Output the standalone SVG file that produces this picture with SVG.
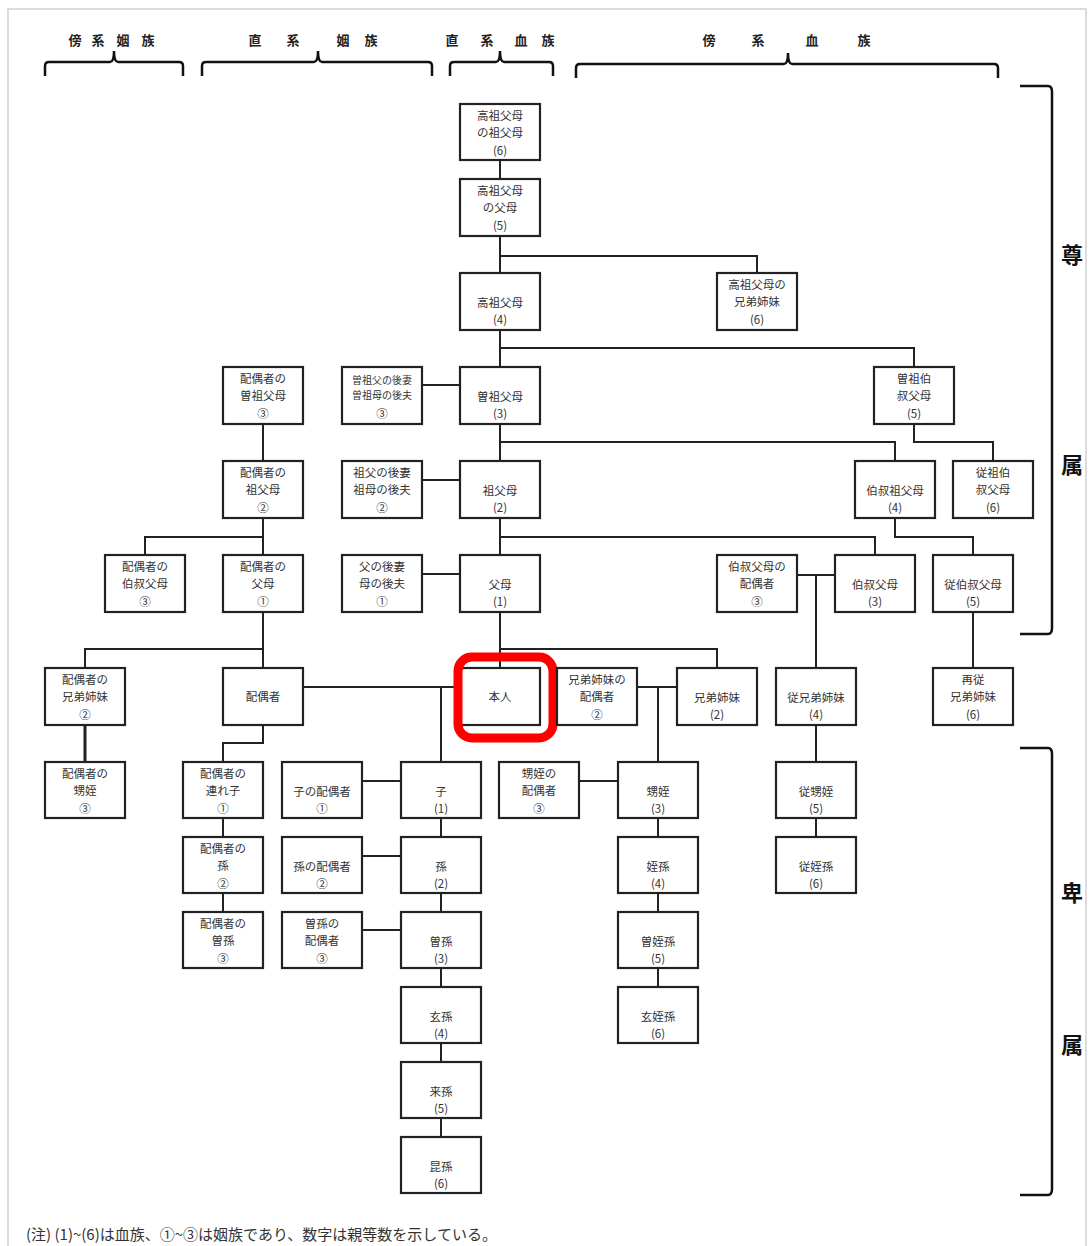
<svg xmlns="http://www.w3.org/2000/svg" width="1089" height="1246" viewBox="0 0 1089 1246">
<style>
.frame{fill:none;stroke:#d0d0d0;stroke-width:1.5}
.box{fill:#fff;stroke:#222;stroke-width:2.2}
.t{font-family:"Noto Sans CJK JP","Noto Sans",sans-serif;font-size:11.5px;fill:#333;text-anchor:middle}
.ts{font-size:10px}
.c{fill:none;stroke:#222;stroke-width:2}
.br{fill:none;stroke:#111;stroke-width:2.5}
.h{font-family:"Noto Sans CJK JP",sans-serif;font-size:13px;font-weight:bold;fill:#222;text-anchor:middle}
.hb{font-family:"Noto Sans CJK JP",sans-serif;font-size:22px;font-weight:bold;fill:#111;text-anchor:middle}
.note{font-family:"Noto Sans CJK JP",sans-serif;font-size:15px;fill:#333}
</style>
<rect width="1089" height="1246" fill="#fff"/>
<rect class="frame" x="8" y="9" width="1078" height="1260"/>

<g id="header">
<text class="h" x="75" y="45">傍</text><text class="h" x="98" y="45">系</text><text class="h" x="123" y="45">姻</text><text class="h" x="148" y="45">族</text>
<path class="br" d="M45 76 V66 Q45 62 49 62 H110 Q114 62 114 51 Q114 62 118 62 H179 Q183 62 183 66 V76"/>
<text class="h" x="255" y="45">直</text><text class="h" x="293" y="45">系</text><text class="h" x="343" y="45">姻</text><text class="h" x="371" y="45">族</text>
<path class="br" d="M202 76 V66 Q202 62 206 62 H314 Q318 62 318 51 Q318 62 322 62 H428 Q432 62 432 66 V76"/>
<text class="h" x="452" y="45">直</text><text class="h" x="487" y="45">系</text><text class="h" x="521" y="45">血</text><text class="h" x="548" y="45">族</text>
<path class="br" d="M450 76 V66 Q450 62 454 62 H496 Q500 62 500 51 Q500 62 504 62 H549 Q553 62 553 66 V76"/>
<text class="h" x="709" y="45">傍</text><text class="h" x="758" y="45">系</text><text class="h" x="812" y="45">血</text><text class="h" x="864" y="45">族</text>
<path class="br" d="M576 78 V68 Q576 64 580 64 H784 Q788 64 788 53 Q788 64 792 64 H994 Q998 64 998 68 V78"/>
</g>

<g id="side-brackets">
<path class="br" d="M1020 86 H1048 Q1052 86 1052 92 V628 Q1052 634 1048 634 H1020"/>
<text class="hb" x="1072" y="263">尊</text>
<text class="hb" x="1072" y="473">属</text>
<path class="br" d="M1020 748 H1048 Q1052 748 1052 754 V1189 Q1052 1195 1048 1195 H1020"/>
<text class="hb" x="1072" y="901">卑</text>
<text class="hb" x="1072" y="1053">属</text>
</g>

<g id="connectors">
<path class="c" d="M500 160 V179 M500 236 V273 M500 330 V367 M500 424 V461 M500 518 V555 M500 612 V668"/>
<path class="c" d="M500 256 H757 V273"/>
<path class="c" d="M500 348 H914 V367"/>
<path class="c" d="M500 442 H895 V461"/>
<path class="c" d="M914 424 V442 H993 V461"/>
<path class="c" d="M500 537 H875 V555"/>
<path class="c" d="M895 518 V537 H973 V555"/>
<path class="c" d="M422 385 H460 M422 480 H460 M422 574 H460"/>
<path class="c" d="M797 575 H835 M816 575 V668"/>
<path class="c" d="M973 612 V668"/>
<path class="c" d="M263 424 V461 M263 518 V555 M263 612 V668"/>
<path class="c" d="M263 537 H145 V555"/>
<path class="c" d="M263 649 H85 V668"/>
<path class="c" d="M85 725 V762" style="stroke-width:3"/>
<path class="c" d="M303 687 H460"/>
<path class="c" d="M441 687 V762 M441 818 V837 M441 893 V912 M441 968 V987 M441 1043 V1062 M441 1118 V1137"/>
<path class="c" d="M263 725 V743 H223 V762 M223 818 V837 M223 893 V912"/>
<path class="c" d="M362 781 H401 M362 856 H401 M362 930 H401"/>
<path class="c" d="M500 649 H717 V668"/>
<path class="c" d="M637 687 H677 M658 687 V762"/>
<path class="c" d="M579 781 H618"/>
<path class="c" d="M658 818 V837 M658 893 V912 M658 968 V987"/>
<path class="c" d="M816 725 V762 M816 818 V837"/>
</g>

<g id="n-kouso6"><rect class="box" x="460" y="104" width="80" height="56"/><text class="t" x="500" y="120">高祖父母</text><text class="t" x="500" y="137">の祖父母</text><text class="t" x="500" y="155">(6)</text></g>
<g id="n-kouso5"><rect class="box" x="460" y="179" width="80" height="57"/><text class="t" x="500" y="195">高祖父母</text><text class="t" x="500" y="212">の父母</text><text class="t" x="500" y="230">(5)</text></g>
<g id="n-kouso4"><rect class="box" x="460" y="273" width="80" height="57"/><text class="t" x="500" y="307">高祖父母</text><text class="t" x="500" y="324">(4)</text></g>
<g id="n-kouso-sib"><rect class="box" x="717" y="273" width="80" height="57"/><text class="t" x="757" y="289">高祖父母の</text><text class="t" x="757" y="306">兄弟姉妹</text><text class="t" x="757" y="324">(6)</text></g>

<g id="n-soso"><rect class="box" x="460" y="367" width="80" height="57"/><text class="t" x="500" y="401">曽祖父母</text><text class="t" x="500" y="418">(3)</text></g>
<g id="n-soso-step"><rect class="box" x="342" y="367" width="80" height="57"/><text class="t ts" x="382" y="384">曽祖父の後妻</text><text class="t ts" x="382" y="399">曽祖母の後夫</text><text class="t" x="382" y="418">③</text></g>
<g id="n-sp-soso"><rect class="box" x="223" y="367" width="80" height="57"/><text class="t" x="263" y="383">配偶者の</text><text class="t" x="263" y="400">曽祖父母</text><text class="t" x="263" y="418">③</text></g>
<g id="n-soso-uncle"><rect class="box" x="874" y="367" width="80" height="57"/><text class="t" x="914" y="383">曽祖伯</text><text class="t" x="914" y="400">叔父母</text><text class="t" x="914" y="418">(5)</text></g>

<g id="n-so"><rect class="box" x="460" y="461" width="80" height="57"/><text class="t" x="500" y="495">祖父母</text><text class="t" x="500" y="512">(2)</text></g>
<g id="n-so-step"><rect class="box" x="342" y="461" width="80" height="57"/><text class="t" x="382" y="477">祖父の後妻</text><text class="t" x="382" y="494">祖母の後夫</text><text class="t" x="382" y="512">②</text></g>
<g id="n-sp-so"><rect class="box" x="223" y="461" width="80" height="57"/><text class="t" x="263" y="477">配偶者の</text><text class="t" x="263" y="494">祖父母</text><text class="t" x="263" y="512">②</text></g>
<g id="n-so-uncle"><rect class="box" x="855" y="461" width="80" height="57"/><text class="t" x="895" y="495">伯叔祖父母</text><text class="t" x="895" y="512">(4)</text></g>
<g id="n-juso-uncle"><rect class="box" x="953" y="461" width="80" height="57"/><text class="t" x="993" y="477">従祖伯</text><text class="t" x="993" y="494">叔父母</text><text class="t" x="993" y="512">(6)</text></g>

<g id="n-fubo"><rect class="box" x="460" y="555" width="80" height="57"/><text class="t" x="500" y="589">父母</text><text class="t" x="500" y="606">(1)</text></g>
<g id="n-fubo-step"><rect class="box" x="342" y="555" width="80" height="57"/><text class="t" x="382" y="571">父の後妻</text><text class="t" x="382" y="588">母の後夫</text><text class="t" x="382" y="606">①</text></g>
<g id="n-sp-fubo"><rect class="box" x="223" y="555" width="80" height="57"/><text class="t" x="263" y="571">配偶者の</text><text class="t" x="263" y="588">父母</text><text class="t" x="263" y="606">①</text></g>
<g id="n-sp-uncle"><rect class="box" x="105" y="555" width="80" height="57"/><text class="t" x="145" y="571">配偶者の</text><text class="t" x="145" y="588">伯叔父母</text><text class="t" x="145" y="606">③</text></g>
<g id="n-uncle-sp"><rect class="box" x="717" y="555" width="80" height="57"/><text class="t" x="757" y="571">伯叔父母の</text><text class="t" x="757" y="588">配偶者</text><text class="t" x="757" y="606">③</text></g>
<g id="n-uncle"><rect class="box" x="835" y="555" width="80" height="57"/><text class="t" x="875" y="589">伯叔父母</text><text class="t" x="875" y="606">(3)</text></g>
<g id="n-ju-uncle"><rect class="box" x="933" y="555" width="80" height="57"/><text class="t" x="973" y="589">従伯叔父母</text><text class="t" x="973" y="606">(5)</text></g>

<g id="n-sp-sib"><rect class="box" x="45" y="668" width="80" height="57"/><text class="t" x="85" y="684">配偶者の</text><text class="t" x="85" y="701">兄弟姉妹</text><text class="t" x="85" y="719">②</text></g>
<g id="n-sp"><rect class="box" x="223" y="668" width="80" height="57"/><text class="t" x="263" y="701">配偶者</text></g>
<g id="n-self"><rect class="box" x="460" y="668" width="80" height="57"/><text class="t" x="500" y="701">本人</text><rect x="458" y="657" width="95" height="81" rx="14" fill="none" stroke="#f00" stroke-width="9"/></g>
<g id="n-sib-sp"><rect class="box" x="557" y="668" width="80" height="57"/><text class="t" x="597" y="684">兄弟姉妹の</text><text class="t" x="597" y="701">配偶者</text><text class="t" x="597" y="719">②</text></g>
<g id="n-sib"><rect class="box" x="677" y="668" width="80" height="57"/><text class="t" x="717" y="702">兄弟姉妹</text><text class="t" x="717" y="719">(2)</text></g>
<g id="n-cousin"><rect class="box" x="776" y="668" width="80" height="57"/><text class="t" x="816" y="702">従兄弟姉妹</text><text class="t" x="816" y="719">(4)</text></g>
<g id="n-2cousin"><rect class="box" x="933" y="668" width="80" height="57"/><text class="t" x="973" y="684">再従</text><text class="t" x="973" y="701">兄弟姉妹</text><text class="t" x="973" y="719">(6)</text></g>

<g id="n-sp-nephew"><rect class="box" x="45" y="762" width="80" height="56"/><text class="t" x="85" y="778">配偶者の</text><text class="t" x="85" y="795">甥姪</text><text class="t" x="85" y="813">③</text></g>
<g id="n-sp-child"><rect class="box" x="183" y="762" width="80" height="56"/><text class="t" x="223" y="778">配偶者の</text><text class="t" x="223" y="795">連れ子</text><text class="t" x="223" y="813">①</text></g>
<g id="n-child-sp"><rect class="box" x="282" y="762" width="80" height="56"/><text class="t" x="322" y="796">子の配偶者</text><text class="t" x="322" y="813">①</text></g>
<g id="n-child"><rect class="box" x="401" y="762" width="80" height="56"/><text class="t" x="441" y="796">子</text><text class="t" x="441" y="813">(1)</text></g>
<g id="n-nephew-sp"><rect class="box" x="499" y="762" width="80" height="56"/><text class="t" x="539" y="778">甥姪の</text><text class="t" x="539" y="795">配偶者</text><text class="t" x="539" y="813">③</text></g>
<g id="n-nephew"><rect class="box" x="618" y="762" width="80" height="56"/><text class="t" x="658" y="796">甥姪</text><text class="t" x="658" y="813">(3)</text></g>
<g id="n-cousin-child"><rect class="box" x="776" y="762" width="80" height="56"/><text class="t" x="816" y="796">従甥姪</text><text class="t" x="816" y="813">(5)</text></g>

<g id="n-sp-grand"><rect class="box" x="183" y="837" width="80" height="56"/><text class="t" x="223" y="853">配偶者の</text><text class="t" x="223" y="870">孫</text><text class="t" x="223" y="888">②</text></g>
<g id="n-grand-sp"><rect class="box" x="282" y="837" width="80" height="56"/><text class="t" x="322" y="871">孫の配偶者</text><text class="t" x="322" y="888">②</text></g>
<g id="n-grand"><rect class="box" x="401" y="837" width="80" height="56"/><text class="t" x="441" y="871">孫</text><text class="t" x="441" y="888">(2)</text></g>
<g id="n-grandnephew"><rect class="box" x="618" y="837" width="80" height="56"/><text class="t" x="658" y="871">姪孫</text><text class="t" x="658" y="888">(4)</text></g>
<g id="n-cousin-gc"><rect class="box" x="776" y="837" width="80" height="56"/><text class="t" x="816" y="871">従姪孫</text><text class="t" x="816" y="888">(6)</text></g>

<g id="n-sp-ggrand"><rect class="box" x="183" y="912" width="80" height="56"/><text class="t" x="223" y="928">配偶者の</text><text class="t" x="223" y="945">曽孫</text><text class="t" x="223" y="963">③</text></g>
<g id="n-ggrand-sp"><rect class="box" x="282" y="912" width="80" height="56"/><text class="t" x="322" y="928">曽孫の</text><text class="t" x="322" y="945">配偶者</text><text class="t" x="322" y="963">③</text></g>
<g id="n-ggrand"><rect class="box" x="401" y="912" width="80" height="56"/><text class="t" x="441" y="946">曽孫</text><text class="t" x="441" y="963">(3)</text></g>
<g id="n-ggnephew"><rect class="box" x="618" y="912" width="80" height="56"/><text class="t" x="658" y="946">曽姪孫</text><text class="t" x="658" y="963">(5)</text></g>

<g id="n-gggrand"><rect class="box" x="401" y="987" width="80" height="56"/><text class="t" x="441" y="1021">玄孫</text><text class="t" x="441" y="1038">(4)</text></g>
<g id="n-gggnephew"><rect class="box" x="618" y="987" width="80" height="56"/><text class="t" x="658" y="1021">玄姪孫</text><text class="t" x="658" y="1038">(6)</text></g>
<g id="n-raison"><rect class="box" x="401" y="1062" width="80" height="56"/><text class="t" x="441" y="1096">来孫</text><text class="t" x="441" y="1113">(5)</text></g>
<g id="n-konson"><rect class="box" x="401" y="1137" width="80" height="56"/><text class="t" x="441" y="1171">昆孫</text><text class="t" x="441" y="1188">(6)</text></g>

<text class="note" x="26" y="1240">(注) (1)~(6)は血族、①~③は姻族であり、数字は親等数を示している。</text>
</svg>
